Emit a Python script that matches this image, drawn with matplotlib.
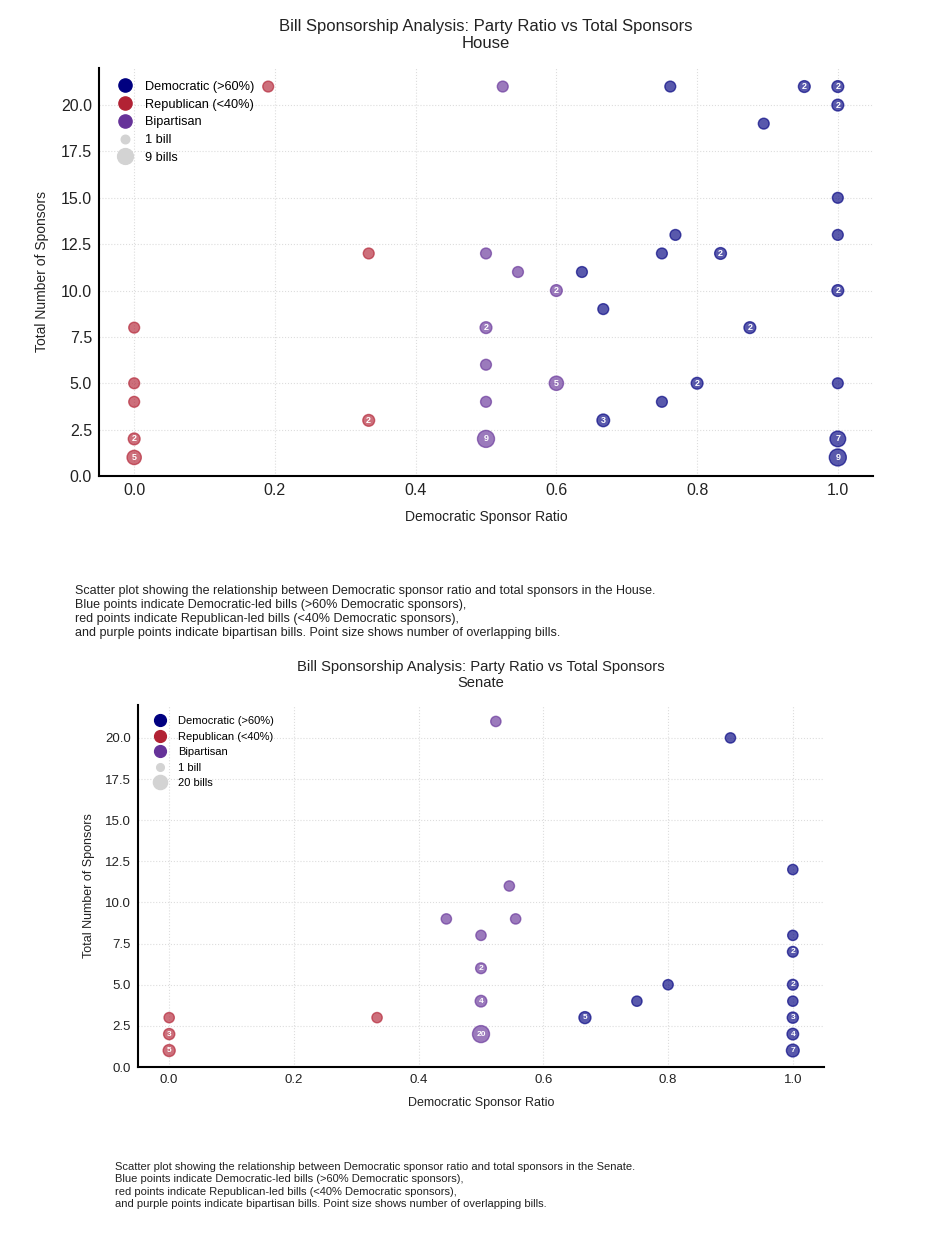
# Bill sponsorship scatter: House and Senate, party ratio vs total sponsors.
import matplotlib
matplotlib.use('Agg')
import matplotlib.pyplot as plt
from matplotlib.lines import Line2D

plt.rcParams['font.family'] = ['Liberation Sans', 'DejaVu Sans']

# ── Data: (dem ratio, total sponsors, number of overlapping bills) ────────
house_rep_x = [4/21, 1/3, 0.0, 0.0, 0.0, 0.0, 0.0, 1/3]
house_rep_y = [21, 12, 8, 5, 4, 2, 1, 3]
house_rep_n = [1, 1, 1, 1, 1, 2, 5, 2]

house_bip_x = [11/21, 0.5, 6/11, 0.6, 0.5, 0.5, 0.6, 0.5, 0.5]
house_bip_y = [21, 12, 11, 10, 8, 6, 5, 4, 2]
house_bip_n = [1, 1, 1, 2, 2, 1, 5, 1, 9]

house_dem_x = [16/21, 20/21, 1.0, 1.0, 17/19, 1.0, 10/13, 1.0, 0.75, 10/12,
               7/11, 1.0, 2/3, 0.875, 0.8, 1.0, 0.75, 2/3, 1.0, 1.0]
house_dem_y = [21, 21, 21, 20, 19, 15, 13, 13, 12, 12,
               11, 10, 9, 8, 5, 5, 4, 3, 2, 1]
house_dem_n = [1, 2, 2, 2, 1, 1, 1, 1, 1, 2,
               1, 2, 1, 2, 2, 1, 1, 3, 7, 9]

senate_rep_x = [0.0, 0.0, 0.0, 1/3]
senate_rep_y = [3, 2, 1, 3]
senate_rep_n = [1, 3, 5, 1]

senate_bip_x = [11/21, 6/11, 4/9, 5/9, 0.5, 0.5, 0.5, 0.5]
senate_bip_y = [21, 11, 9, 9, 8, 6, 4, 2]
senate_bip_n = [1, 1, 1, 1, 1, 2, 4, 20]

senate_dem_x = [0.9, 1.0, 1.0, 1.0, 0.8, 1.0, 0.75, 1.0, 2/3, 1.0, 1.0, 1.0]
senate_dem_y = [20, 12, 8, 7, 5, 5, 4, 4, 3, 3, 2, 1]
senate_dem_n = [1, 1, 1, 2, 1, 2, 1, 1, 5, 3, 4, 7]

DEM_COLOR = '#000080'
REP_COLOR = '#B22234'
BIP_COLOR = '#663399'

CAPTION = ("Scatter plot showing the relationship between Democratic sponsor ratio "
           "and total sponsors in the {}.\n"
           "Blue points indicate Democratic-led bills (>60% Democratic sponsors),\n"
           "red points indicate Republican-led bills (<40% Democratic sponsors),\n"
           "and purple points indicate bipartisan bills. Point size shows number "
           "of overlapping bills.")


def size_of(n, nmax):
    return 50 + 100 * n / nmax


def draw_panel(ax, chamber, groups, nmax, title_fs, lab_fs, tick_fs,
               num_fs, leg_fs, leg_ms, leg_sp):
    for xs, ys, ns, col in groups:
        ax.scatter(xs, ys, s=[size_of(n, nmax) for n in ns], color=col,
                   alpha=0.65, edgecolors=col, linewidths=1.0, zorder=3)
        for x, y, n in zip(xs, ys, ns):
            if n > 1:
                ax.text(x, y, str(n), ha='center', va='center', color='white',
                        fontsize=num_fs, fontweight='bold', zorder=4)

    ax.set_title(f'Bill Sponsorship Analysis: Party Ratio vs Total Sponsors\n{chamber}',
                 fontsize=title_fs, color='#222222', pad=title_fs * 1.2,
                 linespacing=1.2)
    ax.set_xlabel('Democratic Sponsor Ratio', fontsize=lab_fs, color='#222222',
                  labelpad=lab_fs * 0.85)
    ax.set_ylabel('Total Number of Sponsors', fontsize=lab_fs, color='#222222',
                  labelpad=lab_fs * 0.85)
    ax.tick_params(length=0, labelsize=tick_fs, labelcolor='#222222', pad=5)
    ax.grid(True, linestyle=':', color='#dddddd', linewidth=0.8)
    ax.set_axisbelow(True)
    for side in ('top', 'right'):
        ax.spines[side].set_visible(False)
    for side in ('left', 'bottom'):
        ax.spines[side].set_color('black')
        ax.spines[side].set_linewidth(1.5)

    handles = [
        Line2D([], [], marker='o', ls='', color=DEM_COLOR, markersize=leg_ms),
        Line2D([], [], marker='o', ls='', color=REP_COLOR, markersize=leg_ms),
        Line2D([], [], marker='o', ls='', color=BIP_COLOR, markersize=leg_ms),
        Line2D([], [], marker='o', ls='', color='lightgray',
               markersize=leg_ms * 0.65),
        Line2D([], [], marker='o', ls='', color='lightgray',
               markersize=leg_ms * 1.2),
    ]
    labels = ['Democratic (>60%)', 'Republican (<40%)', 'Bipartisan',
              '1 bill', f'{nmax} bills']
    ax.legend(handles, labels, loc='upper left', frameon=False, fontsize=leg_fs,
              handletextpad=0.6, labelspacing=leg_sp, borderaxespad=0.6)


fig = plt.figure(figsize=(9.36, 12.36), dpi=100)
H = 1236.0
W = 936.0

ax1 = fig.add_axes([99 / W, 1 - 476 / H, 774 / W, 408 / H])
draw_panel(ax1, 'House',
           [(house_rep_x, house_rep_y, house_rep_n, REP_COLOR),
            (house_bip_x, house_bip_y, house_bip_n, BIP_COLOR),
            (house_dem_x, house_dem_y, house_dem_n, DEM_COLOR)],
           nmax=9, title_fs=12, lab_fs=10, tick_fs=11.5, num_fs=6.5,
           leg_fs=9.2, leg_ms=9.5, leg_sp=0.45)
fig.text(75 / W, 1 - 585 / H, CAPTION.format('House'), fontsize=9,
         va='top', ha='left', color='#222222', linespacing=1.22)

ax2 = fig.add_axes([138 / W, 1 - 1067 / H, 686 / W, 362 / H])
draw_panel(ax2, 'Senate',
           [(senate_rep_x, senate_rep_y, senate_rep_n, REP_COLOR),
            (senate_bip_x, senate_bip_y, senate_bip_n, BIP_COLOR),
            (senate_dem_x, senate_dem_y, senate_dem_n, DEM_COLOR)],
           nmax=20, title_fs=10.6, lab_fs=9, tick_fs=9.5, num_fs=6,
           leg_fs=8, leg_ms=8.5, leg_sp=0.5)
fig.text(115 / W, 1 - 1162 / H, CAPTION.format('Senate'), fontsize=8,
         va='top', ha='left', color='#222222', linespacing=1.3)

fig.savefig('out.png', dpi=100, facecolor='white')
